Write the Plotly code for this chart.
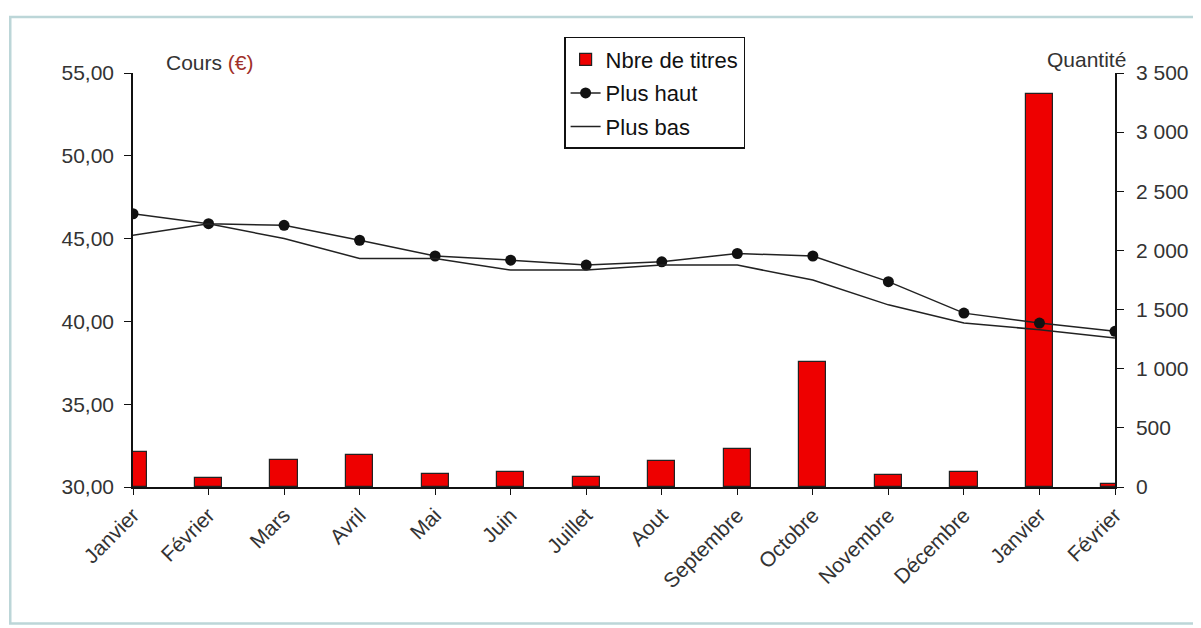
import plotly.graph_objects as go

months = ["Janvier", "Février", "Mars", "Avril", "Mai", "Juin", "Juillet", "Aout",
          "Septembre", "Octobre", "Novembre", "Décembre", "Janvier", "Février"]
nbre_titres = [300, 75, 230, 270, 110, 125, 85, 220, 320, 1055, 100, 125, 3320, 25]
plus_haut = [46.5, 45.9, 45.8, 44.9, 43.95, 43.7, 43.4, 43.6, 44.1, 43.95, 42.4, 40.5, 39.9, 39.4]
plus_bas = [45.2, 45.9, 45.0, 43.8, 43.8, 43.1, 43.1, 43.4, 43.4, 42.5, 41.0, 39.9, 39.5, 39.0]
left_ticks = [30, 35, 40, 45, 50, 55]
right_ticks = [0, 500, 1000, 1500, 2000, 2500, 3000, 3500]

xpos = list(range(len(months)))
FONT = "Arial, Liberation Sans, sans-serif"
TXT = "#333333"

fig = go.Figure()
fig.add_trace(go.Bar(
    x=xpos, y=nbre_titres, name="Nbre de titres", width=0.36,
    marker=dict(color="#EE0000", line=dict(color="#222222", width=1.2)),
    yaxis="y", legendgroup="a",
))
fig.add_trace(go.Scatter(
    x=xpos, y=plus_haut, name="Plus haut", mode="lines+markers",
    line=dict(color="#222222", width=1.5),
    marker=dict(symbol="circle", size=11, color="#111111"),
    yaxis="y2", legendgroup="b",
))
fig.add_trace(go.Scatter(
    x=xpos, y=plus_bas, name="Plus bas", mode="lines",
    line=dict(color="#222222", width=1.5),
    yaxis="y2", legendgroup="c",
))

fig.update_layout(
    width=1193, height=620,
    margin=dict(l=125, r=86, t=65, b=141),
    paper_bgcolor="white", plot_bgcolor="white",
    font=dict(family=FONT, color=TXT, size=18),
    separators=", ",
    bargap=0,
    showlegend=True,
    legend=dict(
        x=0.439, y=1.087, xanchor="left", yanchor="top",
        bgcolor="white", bordercolor="#111111", borderwidth=1.5,
        font=dict(size=22, color="#111111"),
        traceorder="grouped", tracegroupgap=2,
        itemwidth=30,
    ),
    xaxis=dict(
        range=[0, 13], tickmode="array", tickvals=xpos, ticktext=months,
        tickangle=-45, showgrid=False, zeroline=False,
        showline=True, linecolor="#111111", linewidth=1.5,
        ticks="outside", ticklen=6, tickcolor="#111111",
        tickfont=dict(size=21, color=TXT),
    ),
    yaxis=dict(
        side="right", range=[0, 3500], tickvals=right_ticks, tickformat=",d",
        showgrid=False, zeroline=False,
        showline=True, linecolor="#111111", linewidth=1.5,
        ticks="outside", ticklen=7, tickcolor="#111111", ticklabelstandoff=8,
        tickfont=dict(size=21, color=TXT),
    ),
    yaxis2=dict(
        side="left", overlaying="y", range=[30, 55], tickvals=left_ticks, tickformat=".2f",
        showgrid=False, zeroline=False,
        showline=True, linecolor="#111111", linewidth=1.5,
        ticks="outside", ticklen=7, tickcolor="#111111", ticklabelstandoff=6,
        tickfont=dict(size=21, color=TXT),
    ),
    annotations=[
        dict(text="Cours <span style='color:#a0302a'>(€)</span>", xref="paper", yref="paper",
             x=0.032, y=1.025, xanchor="left", yanchor="middle", showarrow=False,
             font=dict(size=21, color=TXT)),
        dict(text="Quantité", xref="paper", yref="paper",
             x=1.013, y=1.032, xanchor="right", yanchor="middle", showarrow=False,
             font=dict(size=21, color=TXT)),
    ],
    shapes=[
        dict(type="rect", xref="paper", yref="paper",
             x0=-0.125, x1=1.082, y0=-0.330, y1=1.135,
             line=dict(color="#bcd6d8", width=2.5), layer="below"),
    ],
)

fig.write_html("out.html")
